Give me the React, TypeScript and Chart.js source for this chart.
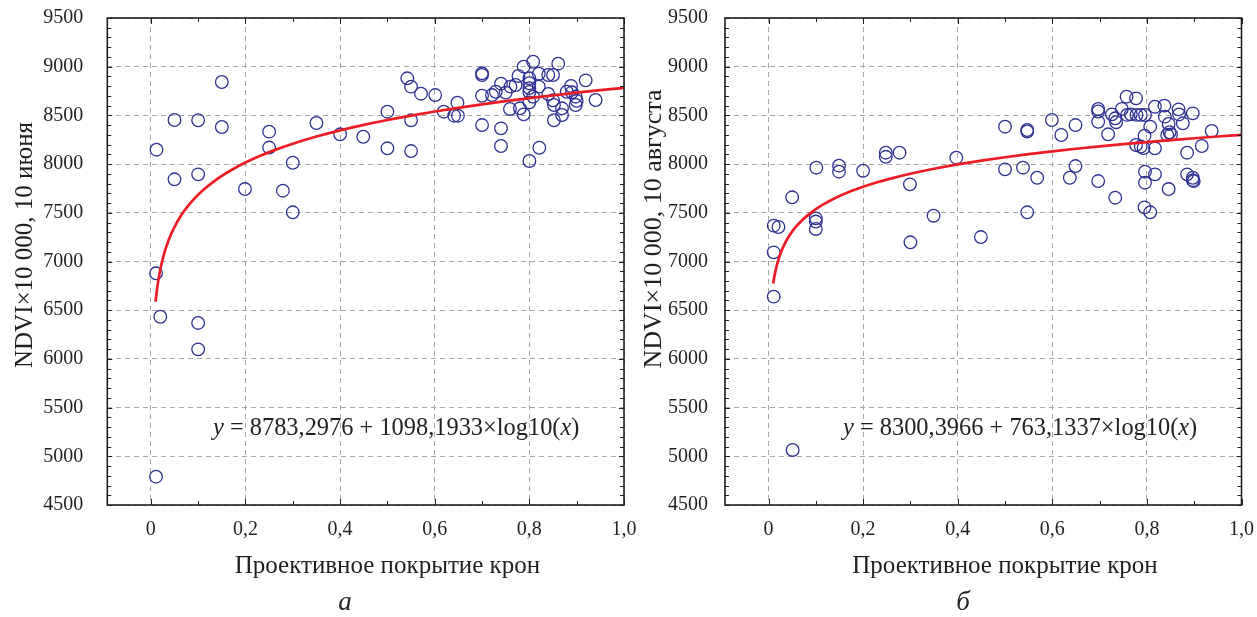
import React, { useEffect, useRef } from "react";
import { Chart, registerables } from "chart.js";
Chart.register(...registerables);

// ---- axes ----
const xTickValues = [0, 0.2, 0.4, 0.6, 0.8, 1.0];
const xTickLabels = ["0", "0,2", "0,4", "0,6", "0,8", "1,0"];
const yTickValues = [4500, 5000, 5500, 6000, 6500, 7000, 7500, 8000, 8500, 9000, 9500];
const xTitle = "Проективное покрытие крон";
const yTitles = ["NDVI×10 000, 10 июня", "NDVI×10 000, 10 августа"];
const panelLetters = ["а", "б"];

// ---- data: panel а (10 June) ----
const juneCover = [
  0.15, 0.05, 0.10, 0.15, 0.25, 0.012, 0.25, 0.35, 0.40, 0.449, 0.30, 0.05, 0.10, 0.199, 0.279, 0.30,
  0.011, 0.02, 0.10, 0.10, 0.011,
  0.50, 0.50, 0.542, 0.55, 0.571, 0.55, 0.55, 0.601, 0.619, 0.648, 0.641, 0.649, 0.70, 0.70, 0.70, 0.70,
  0.721, 0.729, 0.74, 0.74, 0.74, 0.75, 0.759, 0.76, 0.771, 0.777, 0.78, 0.788, 0.788, 0.80, 0.80, 0.80,
  0.80, 0.80, 0.80, 0.808, 0.808, 0.82, 0.82, 0.821, 0.84, 0.84, 0.85, 0.85, 0.852, 0.852, 0.861, 0.869,
  0.869, 0.879, 0.888, 0.89, 0.898, 0.898, 0.90, 0.919, 0.94,
];
const juneNdvi = [
  8843, 8453, 8450, 8381, 8333, 8148, 8170, 8422, 8306, 8281, 8014, 7844, 7895, 7744, 7727, 7505,
  6879, 6433, 6369, 6098, 4791,
  8538, 8162, 8881, 8795, 8723, 8450, 8134, 8709, 8538, 8631, 8497, 8497, 8932, 8915, 8702, 8401,
  8709, 8743, 8826, 8367, 8186, 8734, 8566, 8795, 8812, 8905, 8573, 9000, 8511, 8881, 8830, 8780,
  8740, 8634, 8032, 9051, 8692, 8928, 8795, 8168, 8915, 8720, 8915, 8655, 8607, 8450, 9031, 8573,
  8504, 8743, 8802, 8737, 8692, 8607, 8650, 8860, 8658,
];

// ---- data: panel б (10 August) ----
const augCover = [
  0.101, 0.149, 0.149, 0.20, 0.248, 0.248, 0.277, 0.299, 0.05, 0.011, 0.021, 0.10, 0.10, 0.10, 0.011,
  0.30, 0.349, 0.397, 0.449, 0.011, 0.051,
  0.50, 0.50, 0.538, 0.547, 0.547, 0.547, 0.568, 0.599, 0.619, 0.649, 0.649, 0.637, 0.697, 0.697, 0.697,
  0.697, 0.718, 0.726, 0.733, 0.735, 0.733, 0.747, 0.757, 0.758, 0.766, 0.777, 0.778, 0.777, 0.787, 0.787,
  0.796, 0.795, 0.793, 0.796, 0.796, 0.795, 0.807, 0.817, 0.817, 0.817, 0.807, 0.837, 0.838, 0.846, 0.848,
  0.851, 0.843, 0.846, 0.867, 0.868, 0.876, 0.885, 0.885, 0.897, 0.897, 0.897, 0.899, 0.916, 0.937,
];
const augNdvi = [
  7963, 7984, 7922, 7932, 8117, 8075, 8117, 7792, 7659, 7368, 7354, 7443, 7410, 7334, 7094,
  7197, 7470, 8066, 7251, 6639, 5065,
  8384, 7946, 7963, 8350, 8335, 7505, 7860, 8453, 8299, 8401, 7980, 7860, 8566, 8540, 8435,
  7826, 8306, 8511, 8470, 8430, 7655, 8566, 8692, 8505, 8511, 8675, 8505, 8196, 8505, 8180,
  8504, 8292, 8165, 7922, 7809, 7556, 8384, 8589, 8162, 7895, 7505, 8600, 8487, 8412, 8327,
  8305, 8300, 7744, 8562, 8510, 8419, 8117, 7895, 8521, 7860, 7835, 7825, 8186, 8340,
];

// ---- fitted curves y = a + b*log10(x) (coefficients printed on the chart) ----
const fitIntercept = [8783.2976, 8300.3966];
const fitSlope = [1098.1933, 763.1337];
const fitInterceptText = ["8783,2976", "8300,3966"];
const fitSlopeText = ["1098,1933", "763,1337"];
const curveX = [
  0.01, 0.011, 0.0125, 0.014, 0.016, 0.018, 0.02, 0.023, 0.026, 0.03, 0.035, 0.04, 0.046, 0.053, 0.06,
  0.07, 0.08, 0.09, 0.1, 0.115, 0.13, 0.15, 0.175, 0.2, 0.23, 0.26, 0.3, 0.35, 0.4, 0.45, 0.5, 0.55,
  0.6, 0.65, 0.7, 0.75, 0.8, 0.85, 0.9, 0.95, 1.0,
];

const seriesCover = [juneCover, augCover];
const seriesNdvi = [juneNdvi, augNdvi];

const panels = [
  { left: 0, width: 645, yAxisWidth: 107.3, padRight: 21, tickPad: 24, titleX: 25, titleY: 245, titleSize: 25, eqX: 213, letterX: 345 },
  { left: 630, width: 627, yAxisWidth: 95, padRight: 15.5, tickPad: 17, titleX: 24, titleY: 229, titleSize: 26, eqX: 213, letterX: 333 },
];

const FONT = '"Liberation Serif", "Times New Roman", serif';
const TEXT = "#231f20";

const decorPlugin = {
  id: "decor",
  afterDraw(chart: any, _args: any, o: any) {
    const ctx = chart.ctx;
    const { left, right, top, bottom } = chart.chartArea;
    const xs = chart.scales.x;
    const ys = chart.scales.y;
    ctx.save();
    ctx.strokeStyle = TEXT;
    ctx.lineWidth = 1;
    ctx.beginPath();
    for (let i = 45; i <= 95; i++) {
      const py = Math.round(ys.getPixelForValue(i * 100)) + 0.5;
      const len = i % 5 === 0 ? 5 : 4;
      ctx.moveTo(left, py); ctx.lineTo(left + len, py);
      ctx.moveTo(right, py); ctx.lineTo(right - len, py);
    }
    for (let i = 0; i <= 10; i++) {
      const px = Math.round(xs.getPixelForValue(i / 10)) + 0.5;
      const len = i % 2 === 0 ? 6 : 4;
      ctx.moveTo(px, top); ctx.lineTo(px, top + len);
      ctx.moveTo(px, bottom); ctx.lineTo(px, bottom - len);
    }
    ctx.stroke();
    ctx.lineWidth = 1.6;
    ctx.strokeRect(left, top, right - left, bottom - top);

    ctx.fillStyle = TEXT;
    // x title
    ctx.font = `25px ${FONT}`;
    ctx.textAlign = "center";
    ctx.textBaseline = "middle";
    ctx.fillText(o.xTitle, xs.getPixelForValue(0.5), 566);
    // y title
    ctx.save();
    ctx.font = `${o.titleSize}px ${FONT}`;
    ctx.translate(o.titleX, o.titleY);
    ctx.rotate(-Math.PI / 2);
    ctx.fillText(o.yTitle, 0, 0);
    ctx.restore();
    // panel letter
    ctx.font = `italic 27px ${FONT}`;
    ctx.fillText(o.letter, o.letterX, 603);
    // equation
    const parts: [string, boolean][] = [
      ["y", true],
      [` = ${o.a} + ${o.b}×log10(`, false],
      ["x", true],
      [")", false],
    ];
    ctx.textAlign = "left";
    ctx.textBaseline = "alphabetic";
    let x = o.eqX;
    for (const [t, it] of parts) {
      ctx.font = `${it ? "italic " : ""}24.4px ${FONT}`;
      ctx.fillText(t, x, 435);
      x += ctx.measureText(t).width;
    }
    ctx.restore();
  },
};

function Panel({ idx }: { idx: number }) {
  const ref = useRef<HTMLCanvasElement>(null);
  const p = panels[idx];
  useEffect(() => {
    const canvas = ref.current;
    if (!canvas) return;
    const pts = seriesCover[idx].map((c, i) => ({ x: c, y: seriesNdvi[idx][i] }));
    const curve = curveX.map((c) => ({ x: c, y: fitIntercept[idx] + fitSlope[idx] * Math.log10(c) }));
    const chart = new Chart(canvas, {
      type: "scatter",
      data: {
        datasets: [
          {
            type: "line",
            data: curve,
            borderColor: "#ec1c24",
            borderWidth: 2.7,
            pointRadius: 0,
            fill: false,
            cubicInterpolationMode: "monotone",
          } as any,
          {
            data: pts,
            pointRadius: 6.3,
            pointHoverRadius: 6.3,
            borderWidth: 1.3,
            borderColor: "#2e3192",
            backgroundColor: "rgba(0,0,0,0)",
          },
        ],
      },
      options: {
        animation: false,
        responsive: false,
        events: [],
        layout: { padding: { left: 0, right: p.padRight, top: 18, bottom: 0 } },
        plugins: {
          legend: { display: false },
          tooltip: { enabled: false },
          decor: {
            xTitle,
            yTitle: yTitles[idx],
            titleX: p.titleX,
            titleY: p.titleY,
            titleSize: p.titleSize,
            letter: panelLetters[idx],
            letterX: p.letterX,
            eqX: p.eqX,
            a: fitInterceptText[idx],
            b: fitSlopeText[idx],
          },
        } as any,
        scales: {
          x: {
            type: "linear",
            min: -0.092,
            max: 1.0,
            afterBuildTicks: (s: any) => {
              s.ticks = xTickValues.map((v) => ({ value: v }));
            },
            afterFit: (s: any) => {
              s.height = 112;
              s.paddingLeft = 0;
              s.paddingRight = 0;
            },
            ticks: {
              callback: (_v: any, i: number) => xTickLabels[i],
              font: { family: FONT, size: 20 },
              color: TEXT,
              padding: 13,
              maxRotation: 0,
              autoSkip: false,
            },
            grid: { color: "#a8a8a8", lineWidth: 1, drawTicks: false },
            border: { display: false, dash: [5, 4] },
          },
          y: {
            type: "linear",
            min: 4500,
            max: 9500,
            afterBuildTicks: (s: any) => {
              s.ticks = yTickValues.map((v) => ({ value: v }));
            },
            afterFit: (s: any) => {
              s.width = p.yAxisWidth;
              s.paddingTop = 0;
              s.paddingBottom = 0;
            },
            ticks: {
              callback: (v: any) => String(v),
              font: { family: FONT, size: 20 },
              color: TEXT,
              padding: p.tickPad,
              autoSkip: false,
            },
            grid: { color: "#a8a8a8", lineWidth: 1, drawTicks: false },
            border: { display: false, dash: [5, 4] },
          },
        },
      } as any,
      plugins: [decorPlugin as any],
    });
    return () => chart.destroy();
  }, [idx]);
  return (
    <canvas
      ref={ref}
      width={p.width}
      height={617}
      style={{ position: "absolute", left: p.left, top: 0, width: p.width, height: 617, display: "block" }}
    />
  );
}

export default function App() {
  return (
    <div style={{ position: "fixed", left: 0, top: 0, width: 1257, height: 617, background: "#fff", overflow: "hidden" }}>
      <Panel idx={0} />
      <Panel idx={1} />
    </div>
  );
}
